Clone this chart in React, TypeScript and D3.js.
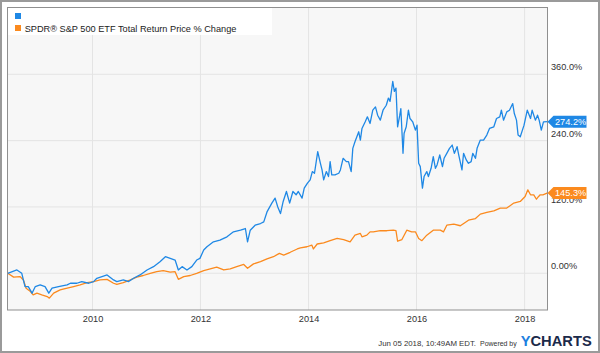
import * as d3 from "d3";
import React, { useRef, useEffect } from "react";

// decimal years, with % change values
const blueYears = [
  2008.43, 2008.6, 2008.69, 2008.75, 2008.81, 2008.88, 2008.94, 2009.03, 2009.12, 2009.19,
  2009.25, 2009.37, 2009.53, 2009.59, 2009.71, 2009.8, 2009.93, 2010.02, 2010.08, 2010.27,
  2010.39, 2010.45, 2010.57, 2010.67, 2010.76, 2010.88, 2011.01, 2011.13, 2011.25, 2011.35,
  2011.44, 2011.53, 2011.59, 2011.66, 2011.75, 2011.84, 2011.93, 2011.99, 2012.06, 2012.12,
  2012.24, 2012.36, 2012.49, 2012.61, 2012.74, 2012.83, 2012.87, 2012.92, 2013.01, 2013.11,
  2013.17, 2013.23, 2013.32, 2013.38, 2013.43, 2013.48, 2013.53, 2013.59, 2013.65, 2013.71,
  2013.77, 2013.81, 2013.88, 2013.92, 2013.98, 2014.03, 2014.07, 2014.11, 2014.17, 2014.22,
  2014.25, 2014.28, 2014.33, 2014.37, 2014.4, 2014.43, 2014.49, 2014.56, 2014.59, 2014.64,
  2014.7, 2014.74, 2014.79, 2014.82, 2014.86, 2014.93, 2014.96, 2014.99, 2015.05, 2015.09,
  2015.14, 2015.19, 2015.24, 2015.28, 2015.33, 2015.38, 2015.44, 2015.48, 2015.51, 2015.56,
  2015.59, 2015.62, 2015.65, 2015.69, 2015.71, 2015.75, 2015.77, 2015.81, 2015.85, 2015.88,
  2015.93, 2015.98, 2016.01, 2016.04, 2016.07, 2016.11, 2016.14, 2016.19, 2016.22, 2016.27,
  2016.31, 2016.35, 2016.38, 2016.43, 2016.48, 2016.51, 2016.56, 2016.61, 2016.66, 2016.7,
  2016.75, 2016.78, 2016.84, 2016.87, 2016.92, 2016.96, 2017.01, 2017.04, 2017.09, 2017.12,
  2017.18, 2017.24, 2017.3, 2017.35, 2017.43, 2017.48, 2017.54, 2017.57, 2017.61, 2017.67,
  2017.72, 2017.78, 2017.81, 2017.85, 2017.88, 2017.92, 2017.99, 2018.05, 2018.11, 2018.14,
  2018.2, 2018.24, 2018.27, 2018.31, 2018.35, 2018.427,
]
const blueValues = [
  0, 6, 0, -24, -24, -36, -24, -21, -24, -36,
  -27, -24, -21, -18, -18, -15, -18, -15, -9, -3,
  -12, -15, -12, -15, -9, -3, 6, 12, 21, 30,
  27, 24, 6, 12, 6, 12, 24, 27, 42, 48,
  57, 60, 66, 75, 78, 81, 57, 78, 87, 90,
  93, 111, 127, 136, 120, 108, 130, 148, 127, 148,
  142, 148, 136, 154, 163, 169, 184, 181, 220, 199,
  187, 169, 184, 175, 202, 178, 178, 181, 187, 208,
  202, 202, 184, 226, 238, 256, 241, 262, 274, 283,
  271, 295, 301, 286, 277, 295, 304, 317, 311, 347,
  329, 335, 265, 286, 298, 217, 253, 265, 295, 280,
  274, 259, 268, 199, 193, 154, 175, 184, 175, 190,
  211, 190, 196, 214, 193, 208, 217, 226, 232, 217,
  229, 214, 187, 217, 205, 199, 202, 217, 208, 226,
  241, 241, 250, 262, 265, 280, 283, 295, 277, 292,
  295, 307, 289, 277, 250, 247, 268, 295, 280, 295,
  277, 286, 277, 259, 274, 274.2,
]

const orangeYears = [
  2008.43, 2008.54, 2008.66, 2008.72, 2008.77, 2008.85, 2008.9, 2008.97, 2009.06, 2009.16,
  2009.2, 2009.28, 2009.4, 2009.53, 2009.65, 2009.77, 2009.9, 2010.02, 2010.14, 2010.27,
  2010.39, 2010.45, 2010.57, 2010.7, 2010.82, 2010.94, 2011.07, 2011.19, 2011.31, 2011.44,
  2011.53, 2011.59, 2011.69, 2011.81, 2011.93, 2012.06, 2012.18, 2012.3, 2012.43, 2012.55,
  2012.67, 2012.8, 2012.87, 2012.98, 2013.11, 2013.23, 2013.35, 2013.46, 2013.54, 2013.66,
  2013.79, 2013.85, 2013.97, 2014.06, 2014.09, 2014.16, 2014.28, 2014.4, 2014.53, 2014.65,
  2014.77, 2014.86, 2014.96, 2014.99, 2015.08, 2015.14, 2015.2, 2015.33, 2015.45, 2015.57,
  2015.62, 2015.65, 2015.73, 2015.82, 2015.91, 2015.98, 2016.04, 2016.1, 2016.19, 2016.31,
  2016.44, 2016.5, 2016.56, 2016.69, 2016.81, 2016.9, 2016.96, 2017.09, 2017.18, 2017.3,
  2017.43, 2017.55, 2017.67, 2017.8, 2017.92, 2018.01, 2018.06, 2018.11, 2018.17, 2018.22,
  2018.26, 2018.29, 2018.34, 2018.427,
]
const orangeValues = [
  0, -7, -6, -12, -27, -33, -39, -36, -39, -42,
  -45, -36, -30, -27, -24, -21, -17, -15, -12, -11,
  -18, -20, -17, -12, -7, -4, 0, 3, 5, 2,
  3, -11, -6, -4, 0, 5, 8, 11, 6, 8,
  12, 16, 9, 17, 21, 26, 30, 36, 33, 38,
  44, 46, 48, 51, 44, 53, 55, 59, 63, 61,
  57, 69, 72, 66, 69, 75, 75, 77, 77, 78,
  77, 58, 61, 78, 75, 75, 63, 59, 69, 78,
  78, 75, 87, 89, 86, 92, 96, 99, 107, 110,
  113, 118, 118, 127, 130, 139, 151, 142, 142, 134,
  139, 142, 142, 145.3,
]

const yTicks = [0, 120, 240, 360]
const yTickLabels = ["0.00%", "120.0%", "240.0%", "360.0%"]
const legendNames = ["", "SPDR® S&P 500 ETF Total Return Price % Change"]
const lastLabels = ["274.2%", "145.3%"]
const stamp = "Jun 05 2018, 10:49AM EDT."

const BLUE = "#1f88e5"
const ORANGE = "#fb8a1e"
const FONT = "'Liberation Sans', Arial, sans-serif"
const FS = 9.2

const toDate = (yr: number) => {
  const y0 = Math.floor(yr)
  const a = new Date(y0, 0, 1).getTime()
  const b = new Date(y0 + 1, 0, 1).getTime()
  return new Date(a + (yr - y0) * (b - a))
}

const App: React.FC = () => {
  const W = 600, H = 353
  const m = { l: 7.5, r: 547.5, t: 7.5, b: 310 }

  const x = d3.scaleTime([new Date(2008, 5, 5), new Date(2018, 5, 5)], [m.l, m.r])
  const y = d3.scaleLinear([-66.4, 480.8], [m.b, m.t])

  const gx = useRef(null)
  const gy = useRef(null)

  const blue = blueYears.map((t, i) => ({ d: toDate(t), v: blueValues[i] }))
  const orange = orangeYears.map((t, i) => ({ d: toDate(t), v: orangeValues[i] }))
  const line = d3.line<{ d: Date, v: number }>(p => x(p.d), p => y(p.v))

  const xTicks = x.ticks(d3.timeYear.every(2)!)

  useEffect(() => {
    if (!gx.current) return
    const g = d3.select(gx.current as SVGGElement)
    g.call(d3.axisBottom(x).tickValues(xTicks).tickFormat(d3.timeFormat("%Y") as any).tickSize(0).tickPadding(5))
    g.select(".domain").remove()
    g.selectAll("text").attr("font-family", FONT).attr("font-size", FS).attr("fill", "#333")
  }, [gx, x])
  useEffect(() => {
    if (!gy.current) return
    const g = d3.select(gy.current as SVGGElement)
    g.call(d3.axisRight(y).tickValues(yTicks).tickFormat((_, i) => yTickLabels[i]).tickSize(0).tickPadding(3.5))
    g.select(".domain").remove()
    g.selectAll("text").attr("font-family", FONT).attr("font-size", FS).attr("fill", "#333").attr("dy", "-4.5")
  }, [gy, y])

  const tag = (cy: number) => {
    const px = m.r
    return `M${px},${cy} L${px + 6},${cy - 6} H${px + 39} V${cy + 6} H${px + 6} Z`
  }
  const ends = [
    { v: blueValues[blueValues.length - 1], c: BLUE, t: lastLabels[0] },
    { v: orangeValues[orangeValues.length - 1], c: ORANGE, t: lastLabels[1] },
  ]

  return (
    <svg width={W} height={H} style={{ position: "absolute", left: 0, top: 0, background: "#fff" }}>
      <rect x={1} y={1} width={W - 2} height={H - 2} fill="#fff" stroke="#9a9a9a" strokeWidth={2} />
      <rect x={m.l} y={m.t} width={m.r - m.l} height={m.b - m.t} fill="#f7f7f7" />
      {xTicks.map(t => (
        <line key={+t} x1={x(t)} x2={x(t)} y1={m.t} y2={m.b} stroke="#e4e4e4" strokeWidth={1} />
      ))}
      {yTicks.map(t => (
        <line key={t} x1={m.l} x2={m.r} y1={y(t)} y2={y(t)} stroke="#e4e4e4" strokeWidth={1} />
      ))}
      <path d={line(orange) || ""} fill="none" stroke={ORANGE} strokeWidth={1.3} strokeLinejoin="round" />
      <path d={line(blue) || ""} fill="none" stroke={BLUE} strokeWidth={1.3} strokeLinejoin="round" />
      <rect x={m.l} y={m.t} width={m.r - m.l} height={m.b - m.t} fill="none" stroke="#8f8f8f" strokeWidth={1} />

      <rect x={8} y={8} width={264} height={27} fill="#fff" />
      {legendNames.map((n, i) => (
        <g key={i} transform={`translate(15, ${13 + i * 12})`}>
          <rect width={6} height={6} fill={i === 0 ? BLUE : ORANGE} />
          <text x={9.7} y={6.5} fontFamily={FONT} fontSize={FS} fill="#222">{n}</text>
        </g>
      ))}

      <g ref={gx} transform={`translate(0, ${m.b})`} />
      <g ref={gy} transform={`translate(${m.r}, 0)`} />

      {ends.map(e => (
        <g key={e.t}>
          <path d={tag(y(e.v))} fill={e.c} />
          <text x={m.r + 7.5} y={y(e.v) + 3.3} fontFamily={FONT} fontSize={FS} fill="#fff">{e.t}</text>
        </g>
      ))}

      <text x={378.3} y={346} fontFamily={FONT} fontSize={8} fill="#333" textLength={97.7} lengthAdjust="spacingAndGlyphs">{stamp}</text>
      <text x={480} y={346} fontFamily={FONT} fontSize={7.5} fill="#333" textLength={36.7} lengthAdjust="spacingAndGlyphs">Powered by</text>
      <text x={520.7} y={346} fontFamily={FONT} fontSize={14} fontWeight="bold" textLength={71} lengthAdjust="spacingAndGlyphs">
        <tspan fill="#1d7fe0">Y</tspan><tspan fill="#1b2a4a">CHARTS</tspan>
      </text>
    </svg>
  )
}

export default App
